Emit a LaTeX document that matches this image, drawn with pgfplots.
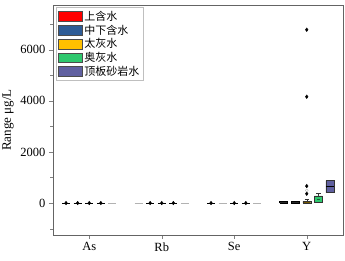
\documentclass[border=0pt]{standalone}
\usepackage{pgfplots}
\pgfplotsset{compat=1.18}
\usepackage{fontspec}
\setmainfont{Liberation Serif}
\newfontfamily\cjk{Noto Sans CJK SC}
\definecolor{cR}{RGB}{255,0,0}
\definecolor{cB}{RGB}{46,92,150}
\definecolor{cY}{RGB}{255,192,0}
\definecolor{cG}{RGB}{46,200,110}
\definecolor{cP}{RGB}{96,96,160}
\definecolor{axg}{RGB}{100,100,100}
\begin{document}
\begin{tikzpicture}
\begin{axis}[
  scale only axis, width=290bp, height=230bp,
  xmin=-0.5, xmax=3.5, ymin=-1250, ymax=7750,
  xtick={0,1,2,3}, xticklabels={As,Rb,Se,Y},
  ytick={0,2000,4000,6000}, minor ytick={-1000,1000,3000,5000,7000},
  tick align=outside, tick pos=left,
  major tick length=4bp, minor tick length=3bp,
  axis line style={axg},
  /pgf/number format/assume math mode=true,
  /pgf/number format/1000 sep={},
  tick label style={font=\fontsize{12.5bp}{14bp}\selectfont},
  ylabel={Range μg/L}, ylabel style={font=\fontsize{13bp}{14bp}\selectfont},
  legend style={at={(0.012,0.99)}, anchor=north west, draw=gray!50, font=\cjk\fontsize{11bp}{12bp}\selectfont, inner sep=1.5bp, row sep=-1bp},
  legend image post style={xscale=1.4, yscale=1.7},
  legend cell align=left,
]
\addlegendimage{area legend, fill=cR, draw=black!70}\addlegendentry{上含水}
\addlegendimage{area legend, fill=cB, draw=black!70}\addlegendentry{中下含水}
\addlegendimage{area legend, fill=cY, draw=black!70}\addlegendentry{太灰水}
\addlegendimage{area legend, fill=cG, draw=black!70}\addlegendentry{奥灰水}
\addlegendimage{area legend, fill=cP, draw=black!70}\addlegendentry{顶板砂岩水}
% As / Rb / Se : collapsed boxes (black = with extreme mark, grey = plain)
\addplot[black, line width=0.9pt, forget plot] coordinates {(-0.375,0) (-0.265,0)};
\addplot[black, line width=0.9pt, forget plot] coordinates {(-0.215,0) (-0.105,0)};
\addplot[black, line width=0.9pt, forget plot] coordinates {(-0.055,0) (0.055,0)};
\addplot[black, line width=0.9pt, forget plot] coordinates {(0.105,0) (0.215,0)};
\addplot[gray!60, line width=0.9pt, forget plot] coordinates {(0.265,0) (0.375,0)};
\addplot[gray!60, line width=0.9pt, forget plot] coordinates {(0.625,0) (0.735,0)};
\addplot[black, line width=0.9pt, forget plot] coordinates {(0.785,0) (0.895,0)};
\addplot[black, line width=0.9pt, forget plot] coordinates {(0.945,0) (1.055,0)};
\addplot[black, line width=0.9pt, forget plot] coordinates {(1.105,0) (1.215,0)};
\addplot[gray!60, line width=0.9pt, forget plot] coordinates {(1.265,0) (1.375,0)};
\addplot[black, line width=0.9pt, forget plot] coordinates {(1.625,0) (1.735,0)};
\addplot[gray!60, line width=0.9pt, forget plot] coordinates {(1.785,0) (1.895,0)};
\addplot[black, line width=0.9pt, forget plot] coordinates {(1.945,0) (2.055,0)};
\addplot[black, line width=0.9pt, forget plot] coordinates {(2.105,0) (2.215,0)};
\addplot[gray!60, line width=0.9pt, forget plot] coordinates {(2.265,0) (2.375,0)};
% Y group
\addplot[draw=black, fill=black!85, forget plot] coordinates {(2.625,5) (2.735,5) (2.735,55) (2.625,55) (2.625,5)};
\addplot[draw=black, fill=black!85, forget plot] coordinates {(2.785,5) (2.895,5) (2.895,55) (2.785,55) (2.785,5)};
% 太灰水
\addplot[black!80, forget plot] coordinates {(3.0,70) (3.0,160)};
\addplot[black!80, forget plot] coordinates {(2.97,160) (3.03,160)};
\addplot[draw=black!80, fill=cY!45!black, forget plot] coordinates {(2.945,5) (3.055,5) (3.055,70) (2.945,70) (2.945,5)};
% 奥灰水
\addplot[black!80, forget plot] coordinates {(3.16,280) (3.16,370)};
\addplot[black!80, forget plot] coordinates {(3.13,370) (3.19,370)};
\addplot[draw=black!80, fill=cG, forget plot] coordinates {(3.105,30) (3.215,30) (3.215,280) (3.105,280) (3.105,30)};
\addplot[cG!50!black, forget plot] coordinates {(3.135,150) (3.185,150)};
% 顶板砂岩水
\addplot[draw=black!80, fill=cP, forget plot] coordinates {(3.265,410) (3.375,410) (3.375,875) (3.265,875) (3.265,410)};
\addplot[black, line width=1.2pt, forget plot] coordinates {(3.265,635) (3.375,635)};
% extreme values / outliers
\addplot[only marks, mark=diamond*, mark size=1.8pt, black, forget plot] coordinates {
(-0.32,0) (-0.16,0) (0,0) (0.16,0)
(0.84,0) (1.0,0) (1.16,0)
(1.68,0) (2.0,0) (2.16,0)
(3.0,365) (3.0,665) (3.0,4160) (3.0,6780)};
\addplot[only marks, mark=o, mark size=1.5pt, gray!60, forget plot] coordinates {(3.0,495)};
\end{axis}
\pgfresetboundingbox
\path ([shift={(-53bp,-26bp)}]current axis.south west) rectangle ([shift={(2bp,5bp)}]current axis.north east);
\end{tikzpicture}
\end{document}
